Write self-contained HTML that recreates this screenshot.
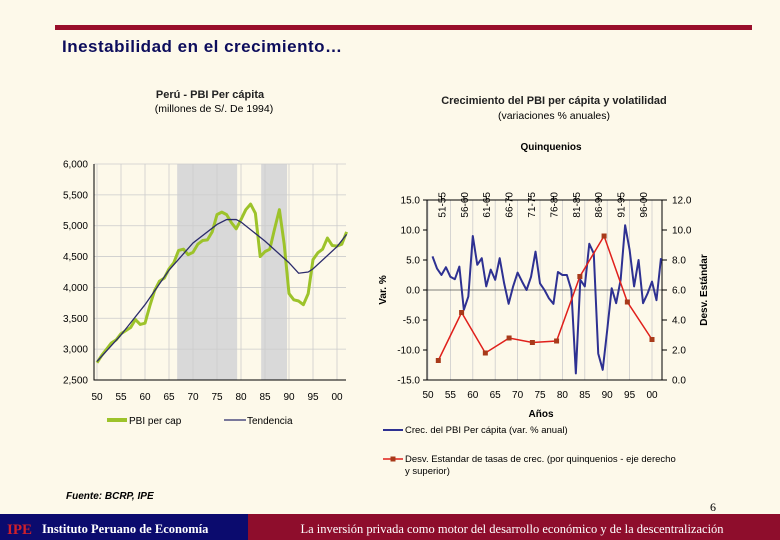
<!DOCTYPE html>
<html><head><meta charset="utf-8"><style>
body{margin:0;background:#fdf9ea;}
svg{display:block;font-family:"Liberation Sans",Arial,sans-serif;}
</style></head><body>
<svg width="780" height="540" viewBox="0 0 780 540">
<rect x="0" y="0" width="780" height="540" fill="#fdf9ea"/>
<rect x="55" y="25" width="697" height="5" fill="#990f2b"/>
<text x="62" y="52" font-size="17" font-weight="bold" fill="#0d0d5c" letter-spacing="0.5">Inestabilidad en el crecimiento…</text>

<text x="210" y="98" font-size="11" font-weight="bold" fill="#222" text-anchor="middle">Perú - PBI Per cápita</text>
<text x="214" y="112" font-size="10.5" text-anchor="middle">(millones de S/. De 1994)</text>
<text x="554" y="104" font-size="11" font-weight="bold" fill="#222" text-anchor="middle">Crecimiento del PBI per cápita y volatilidad</text>
<text x="554" y="119" font-size="10.5" text-anchor="middle">(variaciones % anuales)</text>

<g id="left"></g>
<g id="right"></g>

<text x="66" y="499" font-size="10" font-weight="bold" font-style="italic">Fuente: BCRP, IPE</text>
<text x="710" y="511" font-size="12" font-family="Liberation Serif,serif">6</text>
<rect x="0" y="514" width="248" height="26" fill="#0b0b6e"/>
<rect x="248" y="514" width="532" height="26" fill="#8e0d2c"/>
<text x="7" y="534" font-size="15" font-weight="bold" fill="#d0202a" font-family="Liberation Serif,serif">IPE</text>
<text x="42" y="533" font-size="12.5" font-weight="bold" fill="#fff" font-family="Liberation Serif,serif">Instituto Peruano de Economía</text>
<text x="512" y="533" font-size="12.5" fill="#fff" text-anchor="middle" font-family="Liberation Serif,serif">La inversión privada como motor del desarrollo económico y de la descentralización</text>
</svg>
<script>
const NS="http://www.w3.org/2000/svg";
// Left chart data
const leftYears=[];for(let y=1950;y<=2002;y++)leftYears.push(y);
const pbiPerCap=[2780,2900,3000,3100,3150,3250,3300,3350,3480,3400,3420,3700,3950,4100,4150,4300,4400,4600,4620,4530,4570,4700,4760,4770,4900,5180,5220,5180,5050,4950,5100,5260,5350,5200,4500,4580,4620,4950,5260,4700,3900,3800,3780,3720,3900,4450,4560,4620,4800,4680,4670,4700,4900];
const trendYears=[1950,1955,1960,1965,1970,1975,1977,1979,1980,1985,1990,1992,1994,1995,2000,2002];
const trendValues=[2800,3230,3720,4280,4720,5020,5100,5100,5060,4750,4400,4230,4250,4300,4660,4860];
const leftTicks=[2500,3000,3500,4000,4500,5000,5500,6000];
const leftTickLabels=["2,500","3,000","3,500","4,000","4,500","5,000","5,500","6,000"];
const leftXLabels=["50","55","60","65","70","75","80","85","90","95","00"];
const shadeRanges=[[1966.7,1979.2],[1984.2,1989.6]];
// Right chart data
const growthYears=[];for(let y=1951;y<=2002;y++)growthYears.push(y);
const growthValues=[5.6,3.6,2.5,3.8,2.2,1.8,3.9,-3.3,-1.1,9,4.2,5.3,0.6,3.4,1.7,5.3,1.1,-2.3,0.6,2.9,1.4,0,2.2,6.4,1.1,0,-1.4,-2.3,3,2.5,2.5,0,-13.9,1.7,0.6,7.7,6.1,-10.6,-13.3,-6.7,0.3,-2.2,1.7,10.8,6.7,0.6,5,-2.2,-0.6,1.4,-1.7,5.3];
const sdYears=[1952.3,1957.5,1962.8,1968.1,1973.3,1978.7,1983.9,1989.3,1994.5,2000];
const sdValues=[1.3,4.5,1.8,2.8,2.5,2.6,6.9,9.6,5.2,2.7];
const quinqLabels=["51-55","56-60","61-65","66-70","71-75","76-80","81-85","86-90","91-95","96-00"];
const rightLeftTicks=[-15,-10,-5,0,5,10,15];
const rightRightTicks=[0,2,4,6,8,10,12];

function el(tag,attrs,parent,text){const e=document.createElementNS(NS,tag);for(const k in attrs)e.setAttribute(k,attrs[k]);if(text!==undefined)e.textContent=text;parent.appendChild(e);return e;}

// LEFT
(function(){
const g=document.getElementById('left');
const x0=94,x1=346,yT=164,yB=380;
const sx=y=>97+(y-1950)*4.8;
const sy=v=>yB-(v-2500)/3500*(yB-yT);
shadeRanges.forEach(r=>{const s=el('rect',{x:sx(r[0]),y:yT,width:sx(r[1])-sx(r[0]),height:yB-yT,fill:'#d9d9d9'},g);

});
leftTicks.forEach((t,i)=>{const l=el('line',{x1:x0,x2:x1,y1:sy(t),y2:sy(t),stroke:'#ccc','stroke-width':0.8},g);


const tx=el('text',{x:x0-6,y:sy(t)+3.5,'font-size':10,'text-anchor':'end'},g,leftTickLabels[i]);

});
leftXLabels.forEach((lb,i)=>{const yr=1950+i*5;
const l=el('line',{x1:sx(yr),x2:sx(yr),y1:yT,y2:yB,stroke:'#ccc','stroke-width':0.8},g);


const t=el('text',{x:sx(yr),y:yB+20,'font-size':10,'text-anchor':'middle'},g,lb);

});
const ax=el('path',{d:`M${x0} ${yT}V${yB}H${x1}`,stroke:'#000',fill:'none','stroke-width':1},g);


const gp=el('polyline',{points:leftYears.map((y,i)=>sx(y)+','+sy(pbiPerCap[i])).join(' '),fill:'none',stroke:'#9dc32a','stroke-width':3,'stroke-linejoin':'round'},g);


const tp=el('polyline',{points:trendYears.map((y,i)=>sx(y)+','+sy(trendValues[i])).join(' '),fill:'none',stroke:'#2b2b6b','stroke-width':1.3},g);


const l1=el('line',{x1:107,x2:127,y1:420,y2:420,stroke:'#9dc32a','stroke-width':4},g);


const t1=el('text',{x:129,y:424,'font-size':10},g,'PBI per cap');


const l2=el('line',{x1:224,x2:246,y1:420,y2:420,stroke:'#2b2b6b','stroke-width':1.3},g);


const t2=el('text',{x:247,y:424,'font-size':10},g,'Tendencia');


})();

// RIGHT
(function(){
const g=document.getElementById('right');
const x0=427,x1=662,yT=200,yB=380;
const sx=y=>428+(y-1950)*4.48;
const sy=v=>yB-(v+15)/30*(yB-yT);
const sy2=v=>yB-v/12*(yB-yT);
leftXLabels.forEach((lb,i)=>{const yr=1950+i*5;
const l=el('line',{x1:sx(yr),x2:sx(yr),y1:yT,y2:yB,stroke:'#ccc','stroke-width':0.8},g);


const t=el('text',{x:sx(yr),y:yB+18,'font-size':10,'text-anchor':'middle'},g,lb);

});
const zl=el('line',{x1:x0,x2:x1,y1:sy(0),y2:sy(0),stroke:'#555','stroke-width':0.8},g);


const ax=el('path',{d:`M${x0} ${yT}V${yB}H${x1}V${yT}H${x0}`,stroke:'#000',fill:'none','stroke-width':1},g);


rightLeftTicks.forEach(t=>{const tx=el('text',{x:x0-7,y:sy(t)+3.5,'font-size':10,'text-anchor':'end'},g,t.toFixed(1));


const tk=el('line',{x1:x0-4,x2:x0,y1:sy(t),y2:sy(t),stroke:'#000'},g);

});
rightRightTicks.forEach(t=>{const tx=el('text',{x:x1+10,y:sy2(t)+3.5,'font-size':10},g,t.toFixed(1));


const tk=el('line',{x1:x1,x2:x1+5,y1:sy2(t),y2:sy2(t),stroke:'#000'},g);

});
quinqLabels.forEach((q,i)=>{const xx=sx(1953+i*5);
const tk=el('line',{x1:xx,x2:xx,y1:yT-4,y2:yT,stroke:'#000'},g);


const t=el('text',{x:0,y:0,'font-size':10,'text-anchor':'end',transform:`translate(${xx+4},${yT-8}) rotate(-90)`},g,q);

});
const qt=el('text',{x:551,y:150,'font-size':10,'font-weight':'bold','text-anchor':'middle'},g,'Quinquenios');


const at=el('text',{x:541,y:417,'font-size':10,'font-weight':'bold','text-anchor':'middle'},g,'Años');


const vt=el('text',{x:0,y:0,'font-size':10,'font-weight':'bold','text-anchor':'middle',transform:'translate(386,290) rotate(-90)'},g,'Var. %');


const dt=el('text',{x:0,y:0,'font-size':10,'font-weight':'bold','text-anchor':'middle',transform:'translate(707,290) rotate(-90)'},g,'Desv. Estándar');


const bl=el('polyline',{points:growthYears.map((y,i)=>sx(y)+','+sy(growthValues[i])).join(' '),fill:'none',stroke:'#2e3192','stroke-width':2,'stroke-linejoin':'round'},g);


const rl=el('polyline',{points:sdYears.map((y,i)=>sx(y)+','+sy2(sdValues[i])).join(' '),fill:'none',stroke:'#e0201b','stroke-width':1.5},g);


sdYears.forEach((y,i)=>{const m=el('rect',{x:sx(y)-2.5,y:sy2(sdValues[i])-2.5,width:5,height:5,fill:'#a83a1a'},g);

});
const l1=el('line',{x1:383,x2:403,y1:430,y2:430,stroke:'#2e3192','stroke-width':2},g);


const t1=el('text',{x:405,y:433,'font-size':9.5},g,'Crec. del PBI Per cápita (var. % anual)');


const l2=el('line',{x1:383,x2:403,y1:459,y2:459,stroke:'#e0201b','stroke-width':1.5},g);


const m2=el('rect',{x:390.5,y:456.5,width:5,height:5,fill:'#a83a1a'},g);


const t2=el('text',{x:405,y:462,'font-size':9.5},g,'Desv. Estandar de tasas de crec. (por quinquenios - eje derecho');


const t3=el('text',{x:405,y:474,'font-size':9.5},g,'y superior)');


})();
</script>
</body></html>
